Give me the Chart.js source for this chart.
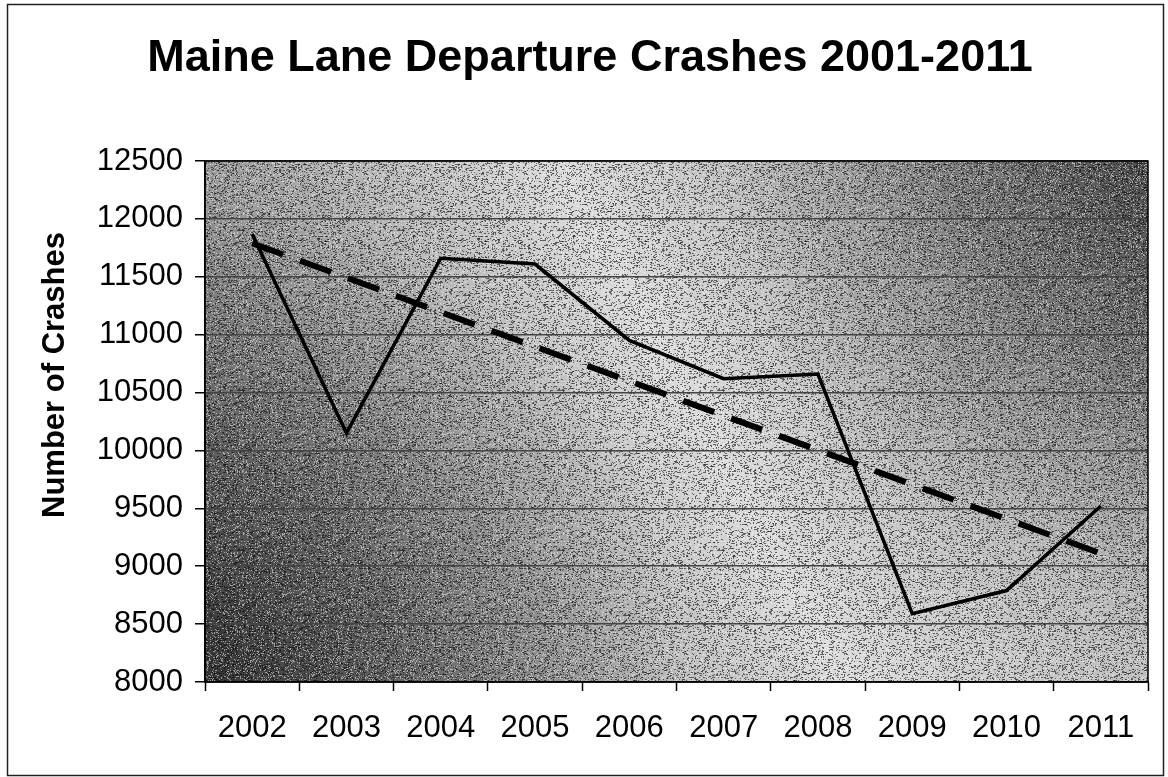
<!DOCTYPE html>
<html>
<head>
<meta charset="utf-8">
<script src="https://cdn.jsdelivr.net/npm/chart.js@4"></script>
<style>
  html, body { margin: 0; padding: 0; background: #fff; }
  #wrap { width: 1168px; height: 777px; }
</style>
</head>
<body>
<div id="wrap"><canvas id="myChart" width="1168" height="777"></canvas></div>
<script>
const years = ["2002", "2003", "2004", "2005", "2006", "2007", "2008", "2009", "2010", "2011"];
const crashes = [11870, 10150, 11660, 11610, 10950, 10620, 10660, 8590, 8790, 9520];
// trend line end points (2002 and 2011)
const trendEnds = [11790, 9110];
const yTicks = [8000, 8500, 9000, 9500, 10000, 10500, 11000, 11500, 12000, 12500];

const trend = years.map(function (y, i) {
  if (i === 0) return trendEnds[0];
  if (i === years.length - 1) return trendEnds[1];
  return null;
});

const FONT = "'Liberation Sans', Arial, sans-serif";

// speckle texture for the scanned-looking plot fill (fixed seed)
function makeSpeckle() {
  const c = document.createElement("canvas");
  c.width = 160;
  c.height = 160;
  const g = c.getContext("2d");
  let s = 12345;
  function next() {
    s = (s * 1103515245 + 12345) % 2147483648;
    return s / 2147483648;
  }
  for (let y = 0; y < c.height; y++) {
    for (let x = 0; x < c.width; x++) {
      const r = next();
      if (r < 0.16) {
        g.fillStyle = "rgba(0,0,0,0.55)";
        g.fillRect(x, y, 1 + (r < 0.05 ? 1 : 0), 1);
      } else if (r > 0.86) {
        g.fillStyle = "rgba(255,255,255,0.5)";
        g.fillRect(x, y, 1, 1);
      }
    }
  }
  return c;
}

// white page, outer frame and shaded plot background
const backdrop = {
  id: "backdrop",
  beforeDraw(chart) {
    const ctx = chart.ctx;
    const a = chart.chartArea;
    ctx.save();
    ctx.fillStyle = "#fff";
    ctx.fillRect(0, 0, chart.width, chart.height);
    ctx.strokeStyle = "#222";
    ctx.lineWidth = 1.5;
    ctx.strokeRect(7.5, 4.5, 1156, 771);

    const w = a.right - a.left;
    const h = a.bottom - a.top;
    ctx.fillStyle = "#dadada";
    ctx.fillRect(a.left, a.top, w, h);

    let g = ctx.createLinearGradient(a.left, a.bottom, a.right, a.top);
    g.addColorStop(0, "rgba(0,0,0,0.55)");
    g.addColorStop(0.52, "rgba(0,0,0,0)");
    g.addColorStop(1, "rgba(0,0,0,0.45)");
    ctx.fillStyle = g;
    ctx.fillRect(a.left, a.top, w, h);

    g = ctx.createRadialGradient(a.left, a.bottom, 0, a.left, a.bottom, 480);
    g.addColorStop(0, "rgba(0,0,0,0.45)");
    g.addColorStop(1, "rgba(0,0,0,0)");
    ctx.fillStyle = g;
    ctx.fillRect(a.left, a.top, w, h);

    g = ctx.createRadialGradient(a.right, a.top, 0, a.right, a.top, 420);
    g.addColorStop(0, "rgba(0,0,0,0.35)");
    g.addColorStop(1, "rgba(0,0,0,0)");
    ctx.fillStyle = g;
    ctx.fillRect(a.left, a.top, w, h);

    g = ctx.createRadialGradient(a.right, a.bottom, 0, a.right, a.bottom, 350);
    g.addColorStop(0, "rgba(255,255,255,0.25)");
    g.addColorStop(1, "rgba(255,255,255,0)");
    ctx.fillStyle = g;
    ctx.fillRect(a.left, a.top, w, h);

    ctx.fillStyle = ctx.createPattern(makeSpeckle(), "repeat");
    ctx.fillRect(a.left, a.top, w, h);
    ctx.restore();
  },
  afterDatasetsDraw(chart) {
    const ctx = chart.ctx;
    const a = chart.chartArea;
    ctx.save();
    ctx.strokeStyle = "#000";
    ctx.lineWidth = 1.5;
    ctx.strokeRect(a.left, a.top, a.right - a.left, a.bottom - a.top);
    // y axis title, sits higher than the plot centre in the original
    ctx.translate(55, 375);
    ctx.rotate(-Math.PI / 2);
    ctx.fillStyle = "#000";
    ctx.font = "bold 31px " + FONT;
    ctx.textAlign = "center";
    ctx.textBaseline = "middle";
    ctx.fillText("Number of Crashes", 0, 0);
    ctx.restore();
  },
};

const ctx = document.getElementById("myChart").getContext("2d");

const myChart = new Chart(ctx, {
  type: "line",
  data: {
    labels: years,
    datasets: [
      {
        label: "Crashes",
        data: crashes,
        borderColor: "#000",
        borderWidth: 3.5,
        pointRadius: 0,
        tension: 0,
        fill: false,
      },
      {
        label: "Trend",
        data: trend,
        borderColor: "#000",
        borderWidth: 6,
        borderDash: [33, 18],
        borderCapStyle: "butt",
        pointRadius: 0,
        spanGaps: true,
        fill: false,
      },
    ],
  },
  options: {
    responsive: false,
    animation: false,
    layout: {
      padding: { left: 32, right: 20, top: 0, bottom: 0 },
    },
    plugins: {
      legend: { display: false },
      tooltip: { enabled: false },
      title: {
        display: true,
        text: "Maine Lane Departure Crashes 2001-2011",
        color: "#000",
        font: { family: FONT, size: 45, weight: "bold" },
        padding: { top: 32, bottom: 75 },
      },
    },
    scales: {
      x: {
        offset: true,
        grid: {
          display: true,
          offset: true,
          drawOnChartArea: false,
          drawTicks: true,
          tickLength: 9,
          tickColor: "#000",
          tickWidth: 1.5,
        },
        border: { display: true, color: "#000", width: 1.5 },
        ticks: {
          color: "#000",
          padding: 19,
          maxRotation: 0,
          font: { family: FONT, size: 31 },
        },
        afterFit(scale) {
          scale.height = 95;
        },
      },
      y: {
        min: yTicks[0],
        max: yTicks[yTicks.length - 1],
        afterBuildTicks(scale) {
          scale.ticks = yTicks.map(function (v) {
            return { value: v };
          });
        },
        grid: {
          color: "#444",
          lineWidth: 1.5,
          tickLength: 10,
          tickColor: "#000",
        },
        border: { display: true, color: "#000", width: 1.5 },
        ticks: {
          color: "#000",
          padding: 12,
          font: { family: FONT, size: 31 },
          callback: function (v) {
            return String(v);
          },
        },
        afterFit(scale) {
          scale.width = 173;
        },
      },
    },
  },
  plugins: [backdrop],
});
</script>
</body>
</html>
